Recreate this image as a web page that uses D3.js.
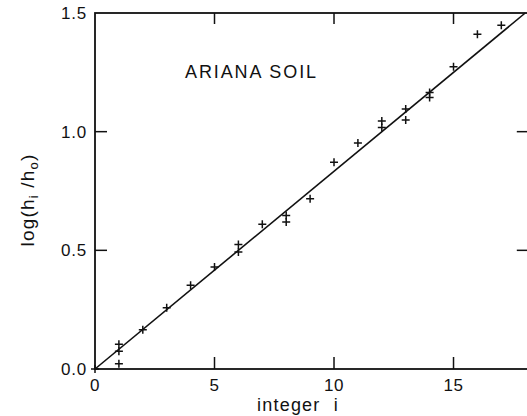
<!DOCTYPE html>
<html>
<head>
<meta charset="utf-8">
<script src="https://cdn.jsdelivr.net/npm/d3@7/dist/d3.min.js"></script>
<style>
  html, body { margin: 0; padding: 0; background: #fff; }
  svg { display: block; }
  text { font-family: "Liberation Sans", Arial, sans-serif; fill: #111; }
</style>
</head>
<body>
<svg id="chart" width="527" height="416"></svg>
<script>
// ---- data ----
const integerI = [0, 1, 1, 1, 2, 3, 4, 5, 6, 6, 7, 8, 8, 9, 10, 11, 12, 12, 13, 13, 14, 14, 15, 16, 17];
const logRatio = [0, 0.104, 0.075, 0.022, 0.165, 0.258, 0.353, 0.43, 0.525, 0.493, 0.61, 0.647, 0.619, 0.717,
                  0.871, 0.952, 1.045, 1.018, 1.095, 1.049, 1.165, 1.144, 1.273, 1.41, 1.448];
const fitX = [0, 18];
const fitY = [0, 1.5];
const xTicks = [0, 5, 10, 15];
const xTickLabels = ["0", "5", "10", "15"];
const yTicks = [0, 0.5, 1.0, 1.5];
const yTickLabels = ["0.0", "0.5", "1.0", "1.5"];
const xDomain = [0, 18.15];
const yDomain = [0, 1.5];
const title = "ARIANA SOIL";

// ---- layout ----
const svg = d3.select("#chart");
const x = d3.scaleLinear().domain(xDomain).range([95, 528.8]);
const y = d3.scaleLinear().domain(yDomain).range([369, 13]);
const ink = "#111";

// frame
svg.append("rect")
  .attr("x", x(xDomain[0])).attr("y", y(yDomain[1]))
  .attr("width", x(xDomain[1]) - x(xDomain[0]))
  .attr("height", y(yDomain[0]) - y(yDomain[1]))
  .attr("fill", "none").attr("stroke", ink).attr("stroke-width", 1.8);

// inner ticks
const innerX = xTicks.filter(d => d > 0);
const innerY = yTicks.filter(d => d > 0 && d < yDomain[1]);
svg.append("g").selectAll("line").data(innerX).join("line")
  .attr("x1", d => x(d)).attr("x2", d => x(d))
  .attr("y1", y(0)).attr("y2", y(0) - 12)
  .attr("stroke", ink).attr("stroke-width", 1.5);
svg.append("g").selectAll("line").data(innerX).join("line")
  .attr("x1", d => x(d)).attr("x2", d => x(d))
  .attr("y1", y(yDomain[1])).attr("y2", y(yDomain[1]) + 11)
  .attr("stroke", ink).attr("stroke-width", 1.5);
svg.append("g").selectAll("line").data(innerY).join("line")
  .attr("x1", x(0)).attr("x2", x(0) + 12)
  .attr("y1", d => y(d)).attr("y2", d => y(d))
  .attr("stroke", ink).attr("stroke-width", 1.5);
svg.append("g").selectAll("line").data(innerY).join("line")
  .attr("x1", x(xDomain[1])).attr("x2", x(xDomain[1]) - 12)
  .attr("y1", d => y(d)).attr("y2", d => y(d))
  .attr("stroke", ink).attr("stroke-width", 1.5);

// tick labels
svg.append("g").selectAll("text").data(yTicks).join("text")
  .attr("x", x(0) - 8).attr("y", d => y(d))
  .attr("dy", "0.36em")
  .attr("text-anchor", "end")
  .attr("font-size", 17).attr("letter-spacing", 0.8)
  .text((d, i) => yTickLabels[i]);
svg.append("g").selectAll("text").data(xTicks).join("text")
  .attr("x", d => x(d)).attr("y", y(0) + 22)
  .attr("text-anchor", "middle")
  .attr("font-size", 17).attr("letter-spacing", 0.5)
  .text((d, i) => xTickLabels[i]);

// axis titles
svg.append("text")
  .attr("x", 298).attr("y", 411)
  .attr("text-anchor", "middle")
  .attr("font-size", 18).attr("letter-spacing", 1.2)
  .attr("word-spacing", 7)
  .text("integer i");

const yl = svg.append("text")
  .attr("transform", "translate(34,200) rotate(-90)")
  .attr("text-anchor", "middle")
  .attr("font-size", 19).attr("letter-spacing", 1.2);
yl.append("tspan").text("log(h");
yl.append("tspan").attr("font-size", 13).attr("dy", 4).text("i");
yl.append("tspan").attr("dy", -4).text(" /h");
yl.append("tspan").attr("font-size", 13).attr("dy", 4).text("o");
yl.append("tspan").attr("dy", -4).text(")");

// title
svg.append("text")
  .attr("x", 185).attr("y", 78)
  .attr("font-size", 18).attr("letter-spacing", 1.9)
  .text(title);

// fit line
const line = d3.line().x(d => x(d[0])).y(d => y(d[1]));
svg.append("path")
  .datum(fitX.map((d, i) => [d, fitY[i]]))
  .attr("d", line)
  .attr("fill", "none").attr("stroke", ink).attr("stroke-width", 1.6);

// data markers (+)
const pts = integerI.map((d, i) => [d, logRatio[i]]);
const s = 4;
svg.append("g").selectAll("path").data(pts).join("path")
  .attr("d", d => `M${x(d[0]) - s},${y(d[1])}H${x(d[0]) + s}M${x(d[0])},${y(d[1]) - s}V${y(d[1]) + s}`)
  .attr("stroke", ink).attr("stroke-width", 1.5).attr("fill", "none");
</script>
</body>
</html>
